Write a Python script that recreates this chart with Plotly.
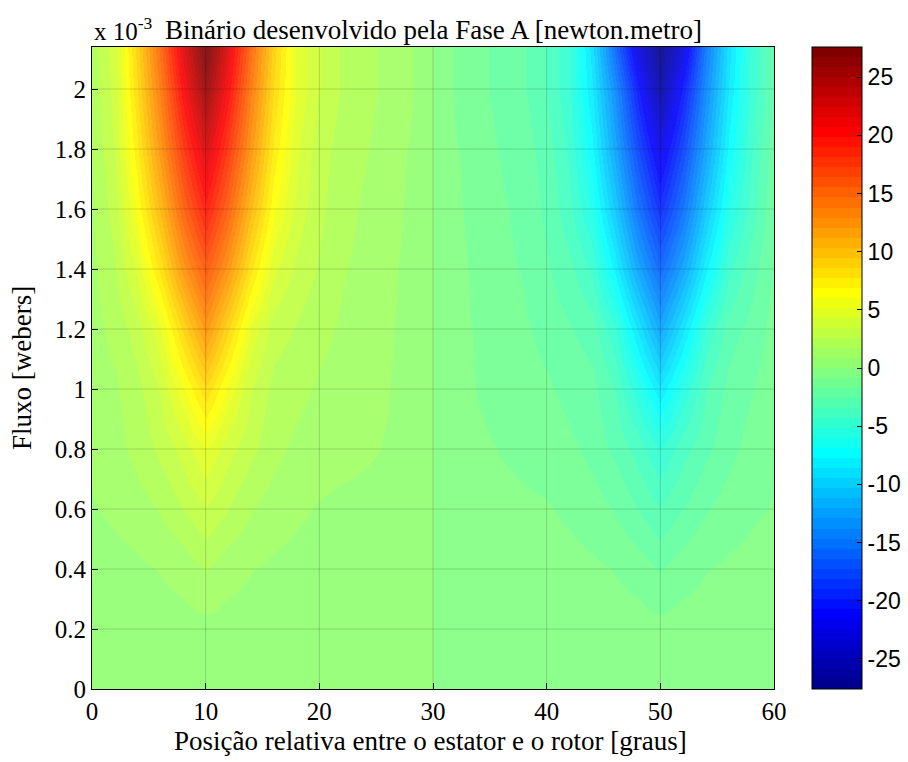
import plotly.graph_objects as go

# ---------------- data ----------------
theta_deg = [0, 2, 4, 6, 8, 10, 12, 14, 16, 18, 20, 22, 24, 26, 28, 30,
             32, 34, 36, 38, 40, 42, 44, 46, 48, 50, 52, 54, 56, 58, 60]
flux_mWb = [0.0, 0.2, 0.4, 0.6, 0.8, 1.0, 1.2, 1.4, 1.6, 1.8, 2.0, 2.14]

# torque [N.m], one row per flux level (bottom -> top), columns follow theta_deg
torque_rows = [
    [0.5, 0.5, 0.5, 0.5, 0.5, 0.5, 0.5, 0.5, 0.5, 0.5, 0.5, 0.5, 0.5, 0.4, 0.2, 0.0,
     -0.2, -0.4, -0.5, -0.5, -0.5, -0.5, -0.5, -0.5, -0.5, -0.5, -0.5, -0.5, -0.5, -0.5, -0.5],
    [0.5, 0.5, 0.5, 0.5, 0.5, 0.6, 0.5, 0.5, 0.5, 0.5, 0.5, 0.5, 0.5, 0.4, 0.2, 0.0,
     -0.2, -0.4, -0.5, -0.5, -0.5, -0.5, -0.5, -0.5, -0.5, -0.6, -0.5, -0.5, -0.5, -0.5, -0.5],
    [0.6, 0.6, 0.7, 0.9, 1.2, 1.8, 1.2, 0.9, 0.7, 0.6, 0.6, 0.6, 0.5, 0.4, 0.2, 0.0,
     -0.2, -0.4, -0.5, -0.6, -0.6, -0.6, -0.7, -0.9, -1.2, -1.8, -1.2, -0.9, -0.7, -0.6, -0.6],
    [0.8, 1.0, 1.3, 1.8, 2.6, 3.4, 2.6, 1.8, 1.3, 1.0, 0.8, 0.7, 0.6, 0.5, 0.3, 0.0,
     -0.3, -0.5, -0.6, -0.7, -0.8, -1.0, -1.3, -1.8, -2.6, -3.4, -2.6, -1.8, -1.3, -1.0, -0.8],
    [1.0, 1.4, 2.0, 2.8, 3.8, 5.2, 3.8, 2.8, 2.0, 1.5, 1.2, 1.1, 1.0, 0.8, 0.5, 0.0,
     -0.4, -0.7, -0.9, -1.1, -1.2, -1.5, -2.0, -2.8, -3.8, -5.2, -3.8, -2.8, -2.0, -1.4, -1.0],
    [1.2, 1.6, 2.3, 3.5, 5.8, 8.5, 5.8, 3.5, 2.3, 2.0, 1.6, 1.4, 1.2, 0.9, 0.5, 0.0,
     -0.5, -0.9, -1.2, -1.4, -1.6, -2.0, -2.3, -3.5, -5.8, -8.5, -5.8, -3.5, -2.3, -1.8, -1.2],
    [1.4, 2.0, 3.0, 5.0, 8.8, 12.5, 8.8, 5.0, 3.0, 2.5, 2.0, 1.6, 1.3, 1.0, 0.5, 0.0,
     -0.5, -1.0, -1.3, -1.6, -2.0, -2.5, -3.0, -5.0, -8.8, -12.5, -8.8, -5.0, -3.0, -2.3, -1.4],
    [1.5, 2.5, 4.5, 8.0, 12.5, 16.0, 12.5, 8.0, 4.5, 3.2, 2.5, 1.8, 1.5, 1.1, 0.6, 0.0,
     -0.6, -1.1, -1.5, -1.8, -2.5, -3.2, -4.5, -8.0, -12.5, -16.0, -12.5, -8.0, -4.5, -3.0, -1.6],
    [1.6, 3.0, 6.2, 10.5, 15.5, 19.5, 15.5, 10.5, 6.2, 4.0, 2.8, 2.0, 1.6, 1.2, 0.7, 0.0,
     -0.7, -1.2, -1.6, -2.0, -2.8, -4.0, -6.2, -10.5, -15.5, -19.5, -15.5, -10.5, -6.2, -4.0, -1.8],
    [1.8, 3.5, 7.5, 12.5, 18.0, 22.5, 18.0, 12.5, 7.5, 4.5, 3.0, 2.2, 1.8, 1.3, 0.8, 0.0,
     -0.8, -1.3, -1.8, -2.2, -3.0, -4.5, -7.5, -12.5, -18.0, -22.5, -18.0, -12.5, -7.5, -4.5, -2.0],
    [2.0, 3.8, 8.5, 14.0, 20.5, 26.0, 20.5, 14.0, 8.5, 5.0, 3.5, 2.5, 2.0, 1.5, 1.0, 0.0,
     -1.0, -1.5, -2.0, -2.5, -3.5, -5.0, -8.5, -14.0, -20.5, -26.0, -20.5, -14.0, -8.5, -5.0, -2.5],
    [2.0, 4.0, 9.0, 15.0, 22.0, 28.0, 22.0, 15.0, 9.0, 5.0, 3.5, 2.5, 2.0, 1.5, 1.0, 0.0,
     -1.0, -1.5, -2.0, -2.5, -3.5, -5.0, -9.0, -16.0, -23.0, -27.5, -23.0, -15.0, -9.0, -5.0, -2.5],
]

x_ticks = [0, 10, 20, 30, 40, 50, 60]
y_ticks_mWb = [0, 0.2, 0.4, 0.6, 0.8, 1, 1.2, 1.4, 1.6, 1.8, 2]
y_tick_text = ["0", "0.2", "0.4", "0.6", "0.8", "1", "1.2", "1.4", "1.6", "1.8", "2"]
cbar_ticks = [-25, -20, -15, -10, -5, 0, 5, 10, 15, 20, 25]
cbar_tick_text = ["-25", "-20", "-15", "-10", "-5", "0", "5", "10", "15", "20", "25"]
c_min, c_max = -27.6, 27.6

# ---------------- styling ----------------
def jet64(k):
    # MATLAB jet(64), k = 1..64
    if k <= 8:
        r, g, b = 0.0, 0.0, 0.5 + k / 16
    elif k <= 24:
        r, g, b = 0.0, (k - 8) / 16, 1.0
    elif k <= 40:
        r, g, b = (k - 24) / 16, 1.0, 1 - (k - 24) / 16
    elif k <= 56:
        r, g, b = 1.0, 1 - (k - 40) / 16, 0.0
    else:
        r, g, b = 1 - (k - 56) / 16, 0.0, 0.0
    return "rgb(%d,%d,%d)" % (round(r * 255), round(g * 255), round(b * 255))

colorscale = []
for i in range(64):
    c = jet64(i + 1)
    colorscale.append([i / 64, c])
    colorscale.append([(i + 1) / 64, c])

flux_wb = [f * 1e-3 for f in flux_mWb]
y_ticks = [v * 1e-3 for v in y_ticks_mWb]
y_top = flux_wb[-1]

serif = "Liberation Serif"
sans = "Liberation Sans"
PLOT_W = 682
CB_X = 1.0557

fig = go.Figure()
fig.add_trace(go.Heatmap(
    x=theta_deg, y=flux_wb, z=torque_rows,
    zsmooth="best", colorscale=colorscale, zmin=c_min, zmax=c_max,
    opacity=0.9,
    colorbar=dict(
        x=CB_X, xanchor="left", xpad=0, y=0.5, yanchor="middle", ypad=0,
        len=1, lenmode="fraction", thickness=50, thicknessmode="pixels",
        outlinecolor="black", outlinewidth=1,
        tickvals=cbar_ticks, ticktext=cbar_tick_text,
        ticks="inside", ticklen=5, tickcolor="black",
        tickfont=dict(family=sans, size=23, color="black"),
    ),
    hoverinfo="skip",
))

shapes = []
for xv in x_ticks[1:-1]:
    shapes.append(dict(type="line", xref="x", yref="paper", x0=xv, x1=xv, y0=0, y1=1,
                       line=dict(color="rgba(0,0,0,0.16)", width=1), layer="above"))
for yv in y_ticks[1:]:
    shapes.append(dict(type="line", xref="paper", yref="y", x0=0, x1=1, y0=yv, y1=yv,
                       line=dict(color="rgba(0,0,0,0.16)", width=1), layer="above"))
# left-side ticks of the colorbar (MATLAB draws them on both sides)
for t in cbar_ticks:
    yp = (t - c_min) / (c_max - c_min)
    shapes.append(dict(type="line", xref="paper", yref="paper",
                       x0=CB_X, x1=CB_X + 5 / PLOT_W, y0=yp, y1=yp,
                       line=dict(color="black", width=1)))

fig.update_layout(
    width=908, height=762,
    margin=dict(l=92, r=134, t=47, b=73, autoexpand=False),
    paper_bgcolor="white", plot_bgcolor="white",
    font=dict(family=serif, color="black"),
    xaxis=dict(range=[0, 60], tickvals=x_ticks, ticks="inside", ticklen=6,
               tickcolor="black", showline=True, linecolor="black", linewidth=1,
               mirror=True, showgrid=False, zeroline=False,
               tickfont=dict(family=serif, size=25, color="black")),
    yaxis=dict(range=[0, y_top], tickvals=y_ticks, ticktext=y_tick_text,
               ticks="inside", ticklen=6, tickcolor="black", showline=True,
               linecolor="black", linewidth=1, mirror=True, showgrid=False,
               zeroline=False, tickfont=dict(family=serif, size=25, color="black")),
    shapes=shapes,
    annotations=[
        dict(text="Binário desenvolvido pela Fase A [newton.metro]", xref="paper", yref="paper",
             x=0.5, y=1, xanchor="center", yanchor="bottom", yshift=0, showarrow=False,
             font=dict(family=serif, size=27, color="black")),
        dict(text="x 10<sup>-3</sup>", xref="paper", yref="paper",
             x=0, y=1, xanchor="left", yanchor="bottom", yshift=0, showarrow=False,
             font=dict(family=serif, size=25, color="black")),
        dict(text="Posição relativa entre o estator e o rotor [graus]", xref="paper", yref="paper",
             x=0.496, y=0, xanchor="center", yanchor="middle", yshift=-52, showarrow=False,
             font=dict(family=serif, size=27, color="black")),
        dict(text="Fluxo [webers]", xref="paper", yref="paper", textangle=-90,
             x=-0.1026, y=0.5, xanchor="center", yanchor="middle", showarrow=False,
             font=dict(family=serif, size=27, color="black")),
    ],
)

fig.write_html("out.html")
